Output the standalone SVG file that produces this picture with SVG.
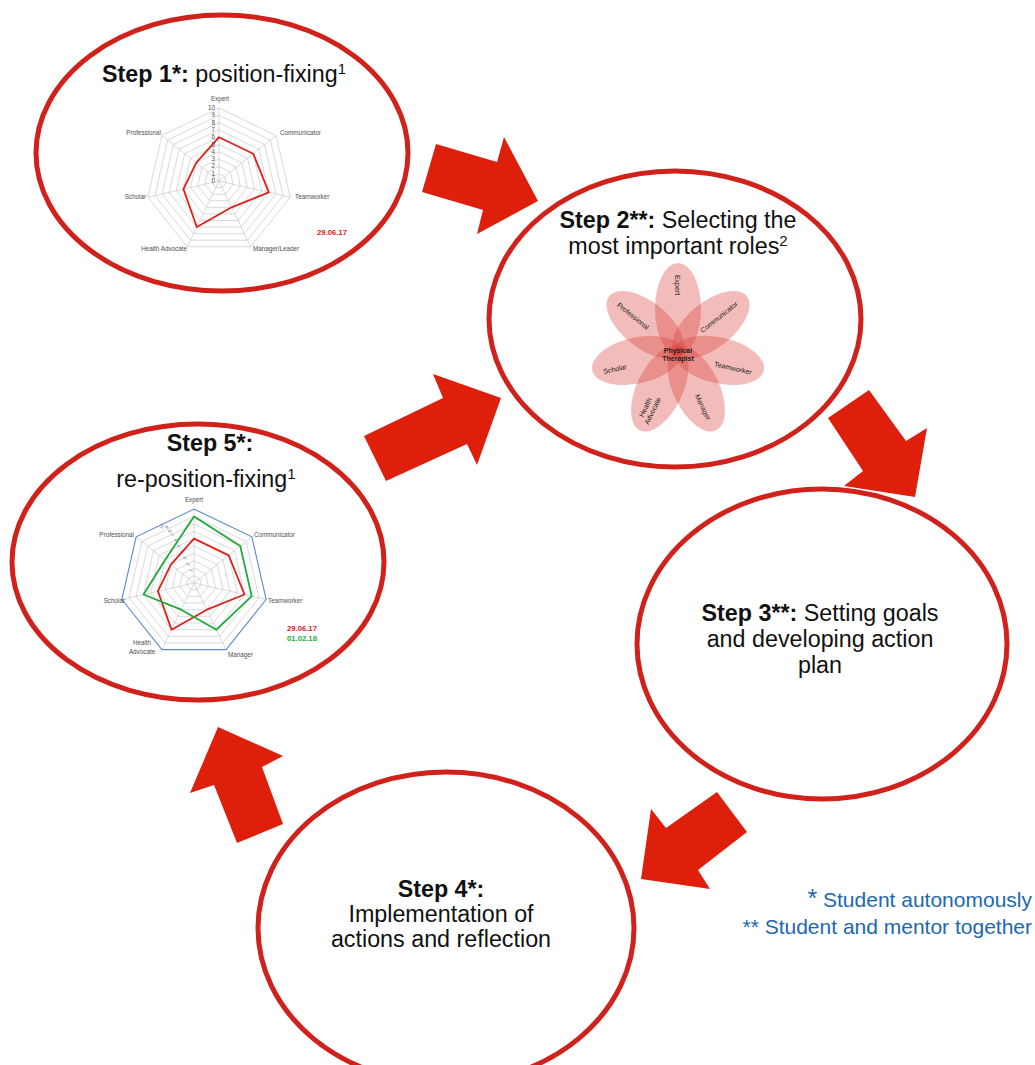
<svg xmlns="http://www.w3.org/2000/svg" xmlns:xlink="http://www.w3.org/1999/xlink" width="1035" height="1065" viewBox="0 0 1035 1065">
<style>
.ring{fill:none;stroke:#C8C8C8}
.spoke{stroke:#C8C8C8;stroke-width:0.7}
.node{fill:#fff;stroke:#D0211A;stroke-width:5}
.arrow{fill:#DE1F0C}
.title{font-family:"Liberation Sans",Arial,sans-serif;font-size:23.3px;fill:#111;text-anchor:middle}
.b{font-weight:bold}
.sup{font-size:15px}
.lbl{font-family:"Liberation Sans",Arial,sans-serif;font-size:6.3px;fill:#505050}
.num{font-family:"Liberation Sans",Arial,sans-serif;font-size:6.3px;fill:#505050;text-anchor:end}
.date{font-family:"Liberation Sans",Arial,sans-serif;font-size:7.7px;font-weight:bold}
.petal{fill:#D93A36;fill-opacity:0.34}
.pl{font-family:"Liberation Sans",Arial,sans-serif;font-size:7px;fill:#222;text-anchor:middle}
.legend{font-family:"Liberation Sans",Arial,sans-serif;font-size:21px;fill:#2068B0;text-anchor:end}
</style>
<defs>
<polygon id="hept" points="0,-10 7.818,-6.235 9.749,2.225 4.339,9.010 -4.339,9.010 -9.749,2.225 -7.818,-6.235"/>
<ellipse id="petal" cx="0" cy="-42" rx="23" ry="46"/>
</defs>

<g id="connectors">
<polygon class="arrow" points="436,144 497,162 504,137 538,201 477,234 483,210 422,192"/>
<polygon class="arrow" points="869,390 906,441 927,428 915,497 844,486 863,471 828,418"/>
<polygon class="arrow" points="717,792 747,832 698,870 710,889 641,879 651,809 666,828"/>
<polygon class="arrow" points="218,727 283,756 262,767 283,824 237,843 214,785 190,793"/>
<polygon class="arrow" points="364,436 443,398 433,374 501,398 477,465 467,444 386,481"/>
</g>

<g id="step1">
<ellipse class="node" cx="222" cy="153" rx="186" ry="138"/>
<text class="title" x="224" y="82"><tspan class="b">Step 1*:</tspan> position-fixing<tspan class="sup" dy="-8">1</tspan></text>
<g transform="translate(219,181)">
<g>
<use xlink:href="#hept" class="ring" stroke-width="0.96" transform="scale(0.73)"/>
<use xlink:href="#hept" class="ring" stroke-width="0.48" transform="scale(1.46)"/>
<use xlink:href="#hept" class="ring" stroke-width="0.32" transform="scale(2.19)"/>
<use xlink:href="#hept" class="ring" stroke-width="0.24" transform="scale(2.92)"/>
<use xlink:href="#hept" class="ring" stroke-width="0.192" transform="scale(3.65)"/>
<use xlink:href="#hept" class="ring" stroke-width="0.16" transform="scale(4.38)"/>
<use xlink:href="#hept" class="ring" stroke-width="0.137" transform="scale(5.11)"/>
<use xlink:href="#hept" class="ring" stroke-width="0.12" transform="scale(5.84)"/>
<use xlink:href="#hept" class="ring" stroke-width="0.107" transform="scale(6.57)"/>
<use xlink:href="#hept" class="ring" stroke-width="0.096" transform="scale(7.3)"/>
</g>
<g class="spoke">
<line x1="0" y1="0" x2="0" y2="-73"/>
<line x1="0" y1="0" x2="57.07" y2="-45.52"/>
<line x1="0" y1="0" x2="71.17" y2="16.24"/>
<line x1="0" y1="0" x2="31.67" y2="65.77"/>
<line x1="0" y1="0" x2="-31.67" y2="65.77"/>
<line x1="0" y1="0" x2="-71.17" y2="16.24"/>
<line x1="0" y1="0" x2="-57.07" y2="-45.52"/>
</g>
<polygon points="0,-43.8 34.24,-27.31 49.82,11.37 12.67,26.31 -22.17,46.04 -35.58,8.12 -22.83,-18.21" fill="none" stroke="#E0201C" stroke-width="1.8" stroke-linejoin="round"/>
<g>
<text class="num" x="-4" y="2">0</text>
<text class="num" x="-4" y="-5.3">1</text>
<text class="num" x="-4" y="-12.6">2</text>
<text class="num" x="-4" y="-19.9">3</text>
<text class="num" x="-4" y="-27.2">4</text>
<text class="num" x="-4" y="-34.5">5</text>
<text class="num" x="-4" y="-41.8">6</text>
<text class="num" x="-4" y="-49.1">7</text>
<text class="num" x="-4" y="-56.4">8</text>
<text class="num" x="-4" y="-63.7">9</text>
<text class="num" x="-4" y="-71">10</text>
</g>
<text class="lbl" x="1" y="-80" text-anchor="middle">Expert</text>
<text class="lbl" x="61" y="-46">Communicator</text>
<text class="lbl" x="76" y="18">Teamworker</text>
<text class="lbl" x="34" y="70">Manager/Leader</text>
<text class="lbl" x="-32" y="70" text-anchor="end">Health Advocate</text>
<text class="lbl" x="-73" y="18" text-anchor="end">Scholar</text>
<text class="lbl" x="-58" y="-46" text-anchor="end">Professional</text>
</g>
<text class="date" x="317" y="235" fill="#E0201C">29.06.17</text>
</g>

<g id="step2">
<ellipse class="node" cx="675" cy="319" rx="186" ry="148"/>
<text class="title" x="678" y="228"><tspan class="b">Step 2**:</tspan> Selecting the</text>
<text class="title" x="678" y="254">most important roles<tspan class="sup" dy="-8">2</tspan></text>
<g transform="translate(678,351)">
<use xlink:href="#petal" class="petal"/>
<use xlink:href="#petal" class="petal" transform="rotate(51.43)"/>
<use xlink:href="#petal" class="petal" transform="rotate(102.86)"/>
<use xlink:href="#petal" class="petal" transform="rotate(154.29)"/>
<use xlink:href="#petal" class="petal" transform="rotate(205.71)"/>
<use xlink:href="#petal" class="petal" transform="rotate(257.14)"/>
<use xlink:href="#petal" class="petal" transform="rotate(308.57)"/>
</g>
<text class="pl" transform="translate(677,285) rotate(90)" y="2.5">Expert</text>
<text class="pl" transform="translate(719,317) rotate(-38.57)" y="2.5">Communicator</text>
<text class="pl" transform="translate(733,368) rotate(12.86)" y="2.5">Teamworker</text>
<text class="pl" transform="translate(703,407) rotate(64.29)" y="2.5">Manager</text>
<text class="pl" transform="translate(649,409) rotate(-64.29)"><tspan x="0" y="-1.5">Health</tspan><tspan x="0" y="6.5">Advocate</tspan></text>
<text class="pl" transform="translate(615,369) rotate(-12.86)" y="2.5">Scholar</text>
<text class="pl" transform="translate(633,316) rotate(38.57)" y="2.5">Professional</text>
<text class="pl" x="678" y="353" font-weight="bold">Physical</text>
<text class="pl" x="678" y="361" font-weight="bold">Therapist</text>
</g>

<g id="step3">
<ellipse class="node" cx="822" cy="644" rx="185" ry="155"/>
<text class="title" x="820" y="621"><tspan class="b">Step 3**:</tspan> Setting goals</text>
<text class="title" x="820" y="647">and developing action</text>
<text class="title" x="820" y="673">plan</text>
</g>

<g id="step4">
<ellipse class="node" cx="446" cy="928" rx="188" ry="156"/>
<text class="title b" x="441" y="897">Step 4*:</text>
<text class="title" x="441" y="922">Implementation of</text>
<text class="title" x="441" y="947">actions and reflection</text>
</g>

<g id="step5">
<ellipse class="node" cx="198" cy="562" rx="186" ry="138"/>
<text class="title b" x="210" y="451">Step 5*:</text>
<text class="title" x="206" y="487">re-position-fixing<tspan class="sup" dy="-8">1</tspan></text>
<g transform="translate(194,583)">
<g>
<use xlink:href="#hept" class="ring" stroke-width="0.946" transform="scale(0.74)"/>
<use xlink:href="#hept" class="ring" stroke-width="0.473" transform="scale(1.48)"/>
<use xlink:href="#hept" class="ring" stroke-width="0.315" transform="scale(2.22)"/>
<use xlink:href="#hept" class="ring" stroke-width="0.236" transform="scale(2.96)"/>
<use xlink:href="#hept" class="ring" stroke-width="0.189" transform="scale(3.7)"/>
<use xlink:href="#hept" class="ring" stroke-width="0.158" transform="scale(4.44)"/>
<use xlink:href="#hept" class="ring" stroke-width="0.135" transform="scale(5.18)"/>
<use xlink:href="#hept" class="ring" stroke-width="0.118" transform="scale(5.92)"/>
<use xlink:href="#hept" class="ring" stroke-width="0.105" transform="scale(6.66)"/>
</g>
<g class="spoke">
<line x1="0" y1="0" x2="0" y2="-74"/>
<line x1="0" y1="0" x2="57.85" y2="-46.14"/>
<line x1="0" y1="0" x2="72.14" y2="16.47"/>
<line x1="0" y1="0" x2="32.11" y2="66.67"/>
<line x1="0" y1="0" x2="-32.11" y2="66.67"/>
<line x1="0" y1="0" x2="-72.14" y2="16.47"/>
<line x1="0" y1="0" x2="-57.85" y2="-46.14"/>
</g>
<polygon points="0,-74 57.85,-46.14 72.14,16.47 32.11,66.67 -32.11,66.67 -72.14,16.47 -57.85,-46.14" fill="none" stroke="#5A8ACB" stroke-width="1.1"/>
<g font-family="Liberation Sans, Arial, sans-serif" font-size="4.5" fill="#5A6E8C" text-anchor="middle">
<text transform="translate(-2,-12) rotate(-60)">1</text>
<text transform="translate(-5,-18) rotate(-60)">2</text>
<text transform="translate(-8,-24) rotate(-60)">3</text>
<text transform="translate(-11,-30) rotate(-60)">4</text>
<text transform="translate(-14,-36) rotate(-60)">5</text>
<text transform="translate(-17,-42) rotate(-60)">6</text>
<text transform="translate(-20,-47) rotate(-60)">7</text>
<text transform="translate(-23,-51) rotate(-60)">8</text>
<text transform="translate(-26,-55) rotate(-60)">9</text>
<text transform="translate(-31,-56) rotate(-60)">10</text>
</g>
<polygon points="0,-44.4 34.71,-27.68 50.5,11.53 12.84,26.67 -22.48,46.67 -36.07,8.23 -23.14,-18.46" fill="none" stroke="#E0201C" stroke-width="1.8" stroke-linejoin="round"/>
<polygon points="0,-66.6 46.28,-36.91 57.71,13.17 22.48,46.67 -12.84,26.67 -50.5,11.53 -28.93,-23.07" fill="none" stroke="#1EAA3C" stroke-width="1.8" stroke-linejoin="round"/>
<text class="lbl" x="0" y="-81" text-anchor="middle">Expert</text>
<text class="lbl" x="60" y="-46">Communicator</text>
<text class="lbl" x="74" y="20">Teamworker</text>
<text class="lbl" x="34" y="74">Manager</text>
<text class="lbl" x="-52" y="62" text-anchor="middle">Health</text>
<text class="lbl" x="-52" y="71" text-anchor="middle">Advocate</text>
<text class="lbl" x="-69" y="20" text-anchor="end">Scholar</text>
<text class="lbl" x="-60" y="-46" text-anchor="end">Professional</text>
</g>
<text class="date" x="287" y="631" fill="#E0201C">29.06.17</text>
<text class="date" x="287" y="641" fill="#1EAA3C">01.02.18</text>
</g>

<g id="legend">
<text class="legend" x="1032" y="907"><tspan font-size="25">*</tspan> Student autonomously</text>
<text class="legend" x="1032" y="934">** Student and mentor together</text>
</g>
</svg>
